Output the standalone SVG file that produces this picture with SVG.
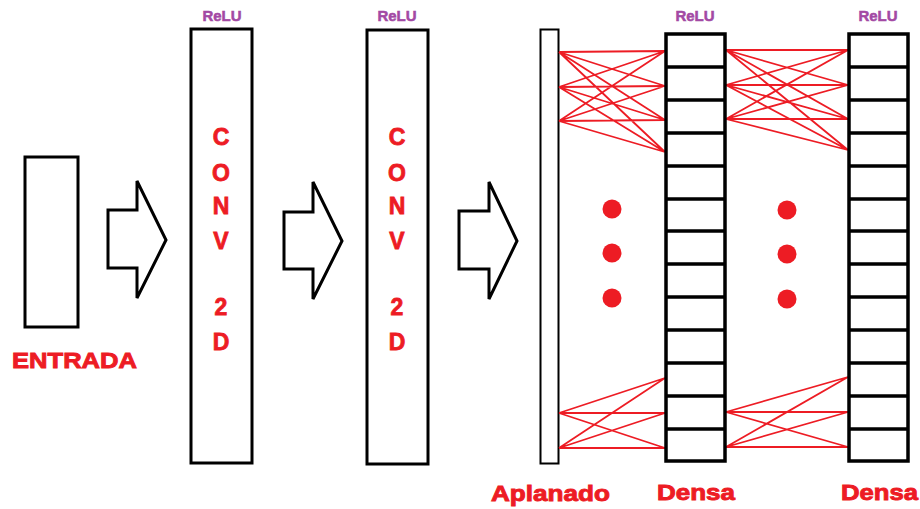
<svg xmlns="http://www.w3.org/2000/svg" width="920" height="509" viewBox="0 0 920 509">
<style>
.box{fill:#fff;stroke:#000;stroke-width:3}
.arrow{fill:#fff;stroke:#000;stroke-width:3;stroke-linejoin:miter}
.lbl{font-family:"Liberation Sans",Arial,sans-serif;font-weight:bold;fill:#ED1C24;stroke:#ED1C24;stroke-width:0.9}
.relu{font-family:"Liberation Sans",Arial,sans-serif;font-weight:bold;fill:#A349A4;stroke:#A349A4;stroke-width:0.5;font-size:15px;text-anchor:middle}
.conv{font-family:"Liberation Sans",Arial,sans-serif;font-weight:bold;fill:#ED1C24;stroke:#ED1C24;stroke-width:0.8;font-size:23px;text-anchor:middle}
.cell{fill:#fff;stroke:#000;stroke-width:3.5}
.link{stroke:#ED1C24;stroke-width:1.8;fill:none}
.dot{fill:#ED1C24}
</style>
<rect width="920" height="509" fill="#fff"/>
<g id="entrada">
<rect class="box" x="25" y="157" width="53" height="170"/>
<text class="lbl" x="12" y="368" font-size="22" textLength="125" lengthAdjust="spacingAndGlyphs">ENTRADA</text>
</g>
<g id="arrow1"><polygon class="arrow" points="108,210 137,210 137,181 166,240 137,298 137,268 108,268"/></g>
<g id="conv1">
<rect class="box" x="191" y="29" width="61" height="434"/>
<text class="relu" x="222" y="21">ReLU</text>
<text class="conv" x="221" y="145">C</text>
<text class="conv" x="221" y="181">O</text>
<text class="conv" x="221" y="214">N</text>
<text class="conv" x="221" y="249">V</text>
<text class="conv" x="221" y="315">2</text>
<text class="conv" x="221" y="350">D</text>
</g>
<g id="arrow2"><polygon class="arrow" points="284,212 313,212 313,182 342,241 313,299 313,269 284,269"/></g>
<g id="conv2">
<rect class="box" x="367" y="30" width="61" height="434"/>
<text class="relu" x="397" y="21">ReLU</text>
<text class="conv" x="397" y="145">C</text>
<text class="conv" x="397" y="181">O</text>
<text class="conv" x="397" y="214">N</text>
<text class="conv" x="397" y="249">V</text>
<text class="conv" x="397" y="315">2</text>
<text class="conv" x="397" y="350">D</text>
</g>
<g id="arrow3"><polygon class="arrow" points="459,211 489,211 489,182 517,241 489,299 489,269 459,269"/></g>
<g id="aplanado">
<rect x="540.5" y="29.5" width="18" height="434" fill="#fff" stroke="#000" stroke-width="2"/>
<text class="lbl" x="491" y="501" font-size="22" textLength="119" lengthAdjust="spacingAndGlyphs">Aplanado</text>
</g>
<g id="connectors">
<path class="link" d="M559,52 L665,51 M559,52 L665,86 M559,52 L665,120 M559,52 L665,152
M559,87 L665,51 M559,87 L665,86 M559,87 L665,120 M559,87 L665,152
M559,121 L665,51 M559,121 L665,86 M559,121 L665,120 M559,121 L665,152
M559,413 L665,378 M559,413 L665,413 M559,413 L665,448
M559,448 L665,378 M559,448 L665,413 M559,448 L665,448
M726,50 L848,50 M726,50 L848,85 M726,50 L848,119 M726,50 L848,150
M726,85 L848,50 M726,85 L848,85 M726,85 L848,119 M726,85 L848,150
M726,119 L848,50 M726,119 L848,85 M726,119 L848,119 M726,119 L848,150
M726,412 L848,377 M726,412 L848,412 M726,412 L848,447
M726,447 L848,377 M726,447 L848,412 M726,447 L848,447"/>
</g>
<g id="dots1">
<circle class="dot" cx="612" cy="209" r="9.5"/>
<circle class="dot" cx="612" cy="253" r="9.5"/>
<circle class="dot" cx="612" cy="298" r="9.5"/>
</g>
<g id="dots2">
<circle class="dot" cx="787" cy="210" r="9.5"/>
<circle class="dot" cx="787" cy="254" r="9.5"/>
<circle class="dot" cx="787" cy="299" r="9.5"/>
</g>
<g id="densa1">
<rect class="cell" x="666" y="34" width="59" height="427"/>
<path stroke="#000" stroke-width="3.5" d="M666,67 H725 M666,100 H725 M666,133 H725 M666,166 H725 M666,199 H725 M666,231 H725 M666,264 H725 M666,297 H725 M666,330 H725 M666,363 H725 M666,396 H725 M666,429 H725"/>
<text class="relu" x="695" y="21">ReLU</text>
<text class="lbl" x="657" y="500" font-size="22" textLength="78" lengthAdjust="spacingAndGlyphs">Densa</text>
</g>
<g id="densa2">
<rect class="cell" x="849" y="34" width="59" height="427"/>
<path stroke="#000" stroke-width="3.5" d="M849,67 H908 M849,100 H908 M849,133 H908 M849,166 H908 M849,199 H908 M849,231 H908 M849,264 H908 M849,297 H908 M849,330 H908 M849,363 H908 M849,396 H908 M849,429 H908"/>
<text class="relu" x="878" y="21">ReLU</text>
<text class="lbl" x="841" y="500" font-size="22" textLength="77" lengthAdjust="spacingAndGlyphs">Densa</text>
</g>
</svg>
